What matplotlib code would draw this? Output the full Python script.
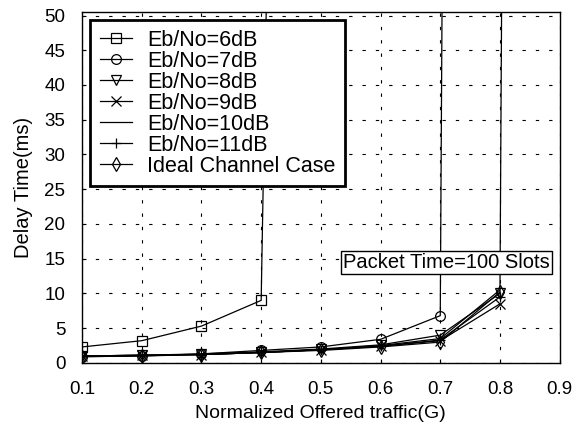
import numpy as np
import matplotlib.pyplot as plt

plt.rcParams['font.family'] = ['Liberation Sans', 'DejaVu Sans']

# offered traffic G
g = [0.1, 0.2, 0.3, 0.4, 0.5, 0.6, 0.7, 0.8, 0.9]

# delay (ms); the last value of a curve that blows up is off the chart
d6 = [2.3, 3.2, 5.3, 9.0, 500]
d7 = [0.9, 1.0, 1.3, 1.8, 2.3, 3.4, 6.8, 1500]
d8 = [1.0, 1.1, 1.3, 1.6, 2.0, 2.6, 4.0, 10.0, 1500]
d9 = [1.0, 1.1, 1.2, 1.5, 1.9, 2.4, 3.2, 8.5]
d10 = [1.0, 1.1, 1.2, 1.5, 1.9, 2.5, 3.5, 10.5]
d11 = [1.0, 1.1, 1.2, 1.5, 1.9, 2.4, 3.3, 9.5]
ideal = [0.9, 1.0, 1.2, 1.5, 1.8, 2.3, 3.0, 10.2]

fig = plt.figure(figsize=(5.74, 4.3), dpi=100)
ax = fig.add_axes([0.143, 0.156, 0.832, 0.816])

kw = dict(color='black', lw=0.9, markersize=7, markerfacecolor='none', markeredgewidth=0.9)
ax.plot(g[:len(d6)], d6, marker='s', label='Eb/No=6dB', **kw)
ax.plot(g[:len(d7)], d7, marker='o', label='Eb/No=7dB', **kw)
ax.plot(g[:len(d8)], d8, marker='v', label='Eb/No=8dB', **kw)
ax.plot(g[:len(d9)], d9, marker='x', label='Eb/No=9dB', **kw)
ax.plot(g[:len(d10)], d10, label='Eb/No=10dB', **kw)
ax.plot(g[:len(d11)], d11, marker='+', label='Eb/No=11dB', **kw)
ax.plot(g[:len(ideal)], ideal, marker='d', label='Ideal Channel Case', **kw)

ax.set_xlim(0.1, 0.9)
ax.set_ylim(0, 50.5)
ax.set_xticks(g)
ax.set_yticks(np.arange(0, 51, 5))
ax.tick_params(direction='in', labelsize=13.5, length=3)
ax.tick_params(axis='x', pad=13)
ax.tick_params(axis='y', pad=12)
ax.grid(True, color='black', linestyle=(0, (3, 9)), linewidth=0.8)
for s in ax.spines.values():
    s.set_linewidth(1.0)

ax.set_xlabel('Normalized Offered traffic(G)', fontsize=14, labelpad=5)
ax.set_ylabel('Delay Time(ms)', fontsize=14.5, labelpad=8)

leg = ax.legend(loc='upper left', bbox_to_anchor=(0.017, 0.977), fontsize=15.5,
                frameon=True, fancybox=False, edgecolor='black', handlelength=1.5,
                labelspacing=0.0, borderpad=0.45, handletextpad=0.7, borderaxespad=0)
leg.get_frame().set_linewidth(2.0)
leg.get_frame().set_alpha(1)

ax.text(0.711, 14.5, 'Packet Time=100 Slots', fontsize=14.5, ha='center', va='center',
        bbox=dict(boxstyle='square,pad=0.1', facecolor='white', edgecolor='black', lw=1.0))

plt.savefig('out.png', dpi=100)
